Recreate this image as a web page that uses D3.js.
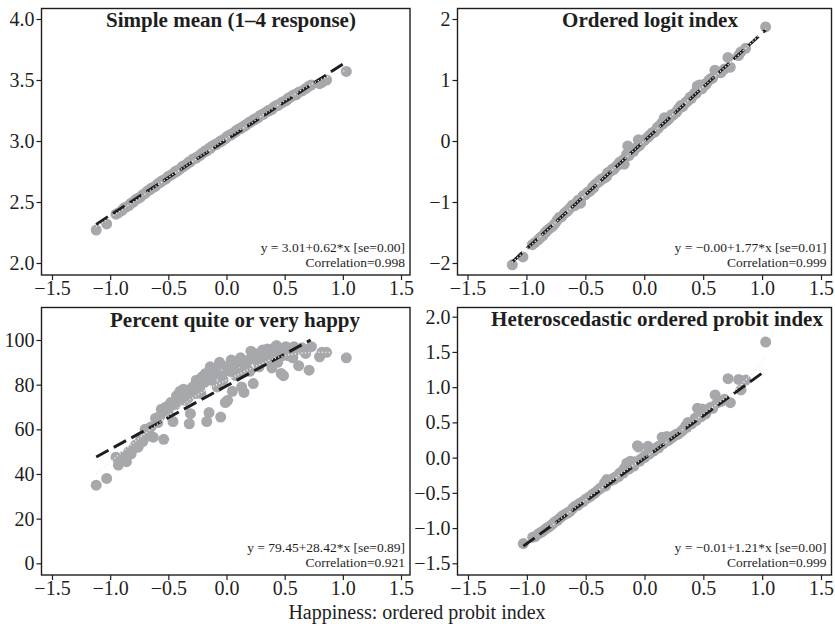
<!DOCTYPE html>
<html>
<head>
<meta charset="utf-8">
<script src="https://cdn.jsdelivr.net/npm/d3@7"></script>
<style>
  html, body { margin: 0; padding: 0; background: #fff; }
  svg { display: block; font-family: "Liberation Serif", "Times New Roman", serif; }
</style>
</head>
<body>
<svg id="chart" width="835" height="630"></svg>
<script>
// ---------------- data ----------------
const xTickValues = [-1.5, -1.0, -0.5, 0.0, 0.5, 1.0, 1.5];
const panelTitles = ["Simple mean (1\u20134 response)", "Ordered logit index",
                     "Percent quite or very happy", "Heteroscedastic ordered probit index"];
const yTicksMean = [2.0, 2.5, 3.0, 3.5, 4.0];
const yTicksLogit = [-2, -1, 0, 1, 2];
const yTicksPct = [0, 20, 40, 60, 80, 100];
const yTicksHetero = [-1.5, -1.0, -0.5, 0.0, 0.5, 1.0, 1.5, 2.0];

// Happiness: ordered probit index (x, shared by all panels)
const probitIndex = [-1.12, -1.03, -0.95, -0.93, -0.90, -0.88, -0.86, -0.84, -0.80, -0.78,
  -0.76, -0.74, -0.72, -0.70, -0.68, -0.66, -0.63, -0.61, -0.59, -0.56,
  -0.54, -0.52, -0.50, -0.48, -0.46, -0.44, -0.42, -0.40, -0.38, -0.36,
  -0.34, -0.32, -0.31, -0.29, -0.27, -0.25, -0.23, -0.21, -0.19, -0.17,
  -0.15, -0.14, -0.12, -0.10, -0.08, -0.06, -0.05, -0.03, -0.01, 0.01,
  0.03, 0.05, 0.07, 0.09, 0.11, 0.13, 0.15, 0.17, 0.19, 0.21,
  0.23, 0.25, 0.27, 0.29, 0.31, 0.33, 0.35, 0.37, 0.39, 0.41,
  0.43, 0.45, 0.47, 0.49, 0.51, 0.53, 0.55, 0.57, 0.60, 0.62,
  0.65, 0.68, 0.71, 0.73, 0.80, 0.82, 0.86, 1.03,
  -0.82, -0.65, -0.57, -0.43, -0.37, -0.33, -0.26, -0.22, -0.18, -0.13,
  -0.09, -0.04, 0.00, 0.04, 0.08, 0.12, 0.16, 0.20, 0.24, 0.28,
  0.32, 0.36, 0.40, 0.44, 0.48, 0.52, 0.58];

const simpleMean = [2.27, 2.32, 2.40, 2.41, 2.43, 2.45, 2.46, 2.47, 2.50, 2.52,
  2.53, 2.54, 2.56, 2.57, 2.59, 2.60, 2.62, 2.63, 2.65, 2.67,
  2.68, 2.69, 2.71, 2.72, 2.73, 2.75, 2.76, 2.77, 2.79, 2.80,
  2.81, 2.83, 2.83, 2.85, 2.86, 2.87, 2.88, 2.90, 2.91, 2.92,
  2.94, 2.94, 2.96, 2.97, 2.98, 2.99, 3.00, 3.01, 3.02, 3.04,
  3.05, 3.06, 3.07, 3.09, 3.10, 3.11, 3.12, 3.13, 3.15, 3.16,
  3.17, 3.18, 3.19, 3.21, 3.22, 3.23, 3.24, 3.25, 3.26, 3.28,
  3.29, 3.30, 3.31, 3.32, 3.33, 3.35, 3.36, 3.37, 3.38, 3.40,
  3.41, 3.43, 3.45, 3.46, 3.47, 3.48, 3.50, 3.57,
  2.49, 2.61, 2.66, 2.75, 2.79, 2.82, 2.86, 2.89, 2.92, 2.95,
  2.97, 3.00, 3.03, 3.05, 3.08, 3.10, 3.13, 3.15, 3.18, 3.20,
  3.22, 3.25, 3.27, 3.29, 3.32, 3.34, 3.38];

const orderedLogit = [-2.03, -1.90, -1.70, -1.67, -1.62, -1.58, -1.55, -1.50, -1.43, -1.40,
  -1.36, -1.30, -1.25, -1.24, -1.19, -1.16, -1.10, -1.05, -1.06, -0.97,
  -1.02, -0.90, -0.88, -0.84, -0.82, -0.76, -0.72, -0.69, -0.66, -0.62,
  -0.61, -0.58, -0.52, -0.50, -0.46, -0.44, -0.40, -0.35, -0.36, -0.38,
  -0.22, -0.08, -0.20, -0.16, -0.13, -0.10, 0.02, -0.04, 0.00, 0.03,
  0.06, 0.10, 0.14, 0.15, 0.22, 0.25, 0.30, 0.38, 0.33, 0.37,
  0.43, 0.44, 0.47, 0.53, 0.58, 0.57, 0.63, 0.66, 0.72, 0.74,
  0.79, 0.90, 0.92, 0.86, 0.93, 0.95, 1.00, 1.03, 1.16, 1.12,
  1.12, 1.18, 1.37, 1.21, 1.40, 1.46, 1.52, 1.87,
  -1.46, -1.14, -1.00, -0.77, -0.64, -0.59, -0.47, -0.39, -0.31, -0.24,
  -0.17, -0.07, 0.01, 0.08, 0.14, 0.21, 0.28, 0.35, 0.42, 0.49,
  0.56, 0.64, 0.70, 0.78, 0.85, 0.92, 1.03];

const pctHappy = [35, 38, 47.5, 44, 46, 48, 45.5, 50, 51.5, 53,
  52, 55, 54.5, 60, 58, 57, 56.5, 65, 63, 69,
  55.5, 70, 68, 72, 63.5, 71, 74, 77, 76, 73,
  77.5, 62.5, 67, 79, 76, 80, 78, 83.5, 81, 63.5,
  67.5, 88, 84, 86, 79, 90, 65.5, 82, 72, 73,
  86, 77, 89, 90, 85, 79, 76.5, 88, 91, 95,
  80.5, 92, 90, 93, 95.5, 94, 96, 91, 87.5, 96.5,
  97.5, 94, 85, 84, 97, 93, 96, 92, 95.5, 88.5,
  96.5, 94, 86.5, 97, 92.5, 94.5, 94.5, 92,
  49, 61, 66, 75, 78, 74, 82, 76, 85, 82,
  87, 84, 88, 91, 84, 92, 87, 86, 94, 88,
  92, 93, 95, 90, 93, 95, 97];

const heteroProbit = [null, -1.22, -1.13, -1.12, -1.08, -1.06, -1.04, -1.01, -0.97, -0.94,
  -0.91, -0.89, -0.86, -0.83, -0.81, -0.79, -0.76, -0.72, -0.69, -0.66,
  -0.64, -0.62, -0.59, -0.57, -0.55, -0.52, -0.50, -0.47, -0.44, -0.42,
  -0.36, -0.31, -0.34, -0.33, -0.30, -0.28, -0.26, -0.22, -0.20, -0.15,
  -0.08, -0.16, -0.05, -0.10, -0.06, 0.17, 0.15, -0.02, 0.00, 0.03,
  0.16, 0.08, 0.09, 0.12, 0.15, 0.17, 0.29, 0.22, 0.30, 0.26,
  0.28, 0.31, 0.33, 0.34, 0.37, 0.40, 0.45, 0.50, 0.48, 0.50,
  0.56, 0.70, 0.65, 0.69, 0.62, 0.66, 0.70, 0.72, 0.89, 0.78,
  0.80, 0.83, 1.12, 0.78, 1.11, 0.96, 1.10, 1.64,
  -0.99, -0.78, -0.68, -0.51, -0.43, -0.40, -0.31, -0.27, -0.22, -0.16,
  -0.12, -0.05, 0.00, 0.05, 0.10, 0.14, 0.20, 0.24, 0.29, 0.33,
  0.38, 0.43, 0.48, 0.53, 0.58, 0.62, 0.70];

// Linear fits (as printed in the panels)
const fitIntercepts = [3.01, -0.00, 79.45, -0.01];
const fitSlopes = [0.62, 1.77, 28.42, 1.21];
const fitLabels = ["y = 3.01+0.62*x [se=0.00]", "y = \u22120.00+1.77*x [se=0.01]",
                   "y = 79.45+28.42*x [se=0.89]", "y = \u22120.01+1.21*x [se=0.00]"];
const corrLabels = ["Correlation=0.998", "Correlation=0.999", "Correlation=0.921", "Correlation=0.999"];

// Local smoother (light dotted curve)
const smoothX = [-1.12, -0.8, -0.5, -0.2, 0.0, 0.2, 0.5, 0.8, 1.03];
const smoothMean = [2.30, 2.50, 2.70, 2.89, 3.02, 3.14, 3.33, 3.50, 3.58];
const smoothLogit = [-1.99, -1.42, -0.88, -0.35, 0.00, 0.36, 0.89, 1.41, 1.84];
const smoothPct = [40, 54, 66, 77, 82, 87, 93, 94.5, 94];
const smoothHetero = [null, -0.98, -0.60, -0.23, 0.00, 0.24, 0.62, 1.00, 1.41];

const ySeries = [simpleMean, orderedLogit, pctHappy, heteroProbit];
const smoothSeries = [smoothMean, smoothLogit, smoothPct, smoothHetero];
const yTickSets = [yTicksMean, yTicksLogit, yTicksPct, yTicksHetero];
const yFormats = [".1f", "d", "d", ".1f"];

// ---------------- layout ----------------
const layout = [
  {fx0: 41.5, fy0: 8.5,  fx1: 410,   fy1: 275, xr: [52, 401],    yr: [263, 19],    tx: 231, ty: 27},
  {fx0: 457.5, fy0: 8.5, fx1: 831.5, fy1: 275, xr: [467.5, 821], yr: [263, 19],    tx: 650, ty: 27},
  {fx0: 41.5, fy0: 307.5, fx1: 410,  fy1: 575, xr: [52, 401],    yr: [563.3, 340], tx: 235, ty: 327},
  {fx0: 457.5, fy0: 307.5, fx1: 831.5, fy1: 575, xr: [468, 821], yr: [563.3, 316.7], tx: 657, ty: 326}
];

const svg = d3.select("#chart");
const ink = "#1e1e1e";
const pointColor = "#a7a8ab";

layout.forEach((L, i) => {
  const g = svg.append("g");
  const yt = yTickSets[i];
  const x = d3.scaleLinear().domain([xTickValues[0], xTickValues[xTickValues.length - 1]]).range(L.xr);
  const y = d3.scaleLinear().domain([yt[0], yt[yt.length - 1]]).range(L.yr);

  // frame
  g.append("rect")
    .attr("x", L.fx0).attr("y", L.fy0)
    .attr("width", L.fx1 - L.fx0).attr("height", L.fy1 - L.fy0)
    .attr("fill", "none").attr("stroke", ink).attr("stroke-width", 1.4);

  // axes
  const xAxis = d3.axisBottom(x).tickValues(xTickValues).tickFormat(d3.format(".1f"))
    .tickSize(5).tickSizeOuter(0).tickPadding(1);
  const ax = g.append("g").attr("transform", `translate(0,${L.fy1})`).call(xAxis);
  const yAxis = d3.axisLeft(y).tickValues(yt).tickFormat(d3.format(yFormats[i]))
    .tickSize(5).tickSizeOuter(0).tickPadding(2);
  const ay = g.append("g").attr("transform", `translate(${L.fx0},0)`).call(yAxis);
  [ax, ay].forEach(a => {
    a.select(".domain").remove();
    a.selectAll("line").attr("stroke", ink).attr("stroke-width", 1.2);
    a.selectAll("text").attr("fill", ink).style("font-size", "20px")
      .style("font-family", '"Liberation Serif", "Times New Roman", serif');
  });

  // points
  const ys = ySeries[i];
  const pts = probitIndex.map((xv, k) => ({x: xv, y: ys[k]})).filter(d => d.y !== null);
  g.append("g").selectAll("circle").data(pts).join("circle")
    .attr("cx", d => x(d.x)).attr("cy", d => y(d.y)).attr("r", 5.5)
    .attr("fill", pointColor);

  // fitted line (clipped to the top of the y range)
  const a = fitIntercepts[i], b = fitSlopes[i];
  const xmin = d3.min(pts, d => d.x);
  let xmax = d3.max(pts, d => d.x);
  const yTop = yt[yt.length - 1];
  if (a + b * xmax > yTop) xmax = (yTop - a) / b;
  g.append("line")
    .attr("x1", x(xmin)).attr("y1", y(a + b * xmin))
    .attr("x2", x(xmax)).attr("y2", y(a + b * xmax))
    .attr("stroke", ink).attr("stroke-width", 3)
    .attr("stroke-dasharray", "14,6");

  // smoother (light dotted)
  const sm = smoothX.map((xv, k) => ({x: xv, y: smoothSeries[i][k]})).filter(d => d.y !== null);
  g.append("path").datum(sm)
    .attr("d", d3.line().x(d => x(d.x)).y(d => y(d.y)).curve(d3.curveMonotoneX))
    .attr("fill", "none").attr("stroke", "#eeeeee").attr("stroke-width", 1.4)
    .attr("stroke-dasharray", "1.2,2.2");

  // title
  g.append("text").attr("x", L.tx).attr("y", L.ty).attr("text-anchor", "middle")
    .attr("fill", ink).style("font-size", "21px").style("font-weight", "bold")
    .text(panelTitles[i]);

  // fit annotation
  g.append("text").attr("x", L.fx1 - 5).attr("y", L.fy1 - 23.5).attr("text-anchor", "end")
    .attr("fill", ink).style("font-size", "13.5px").text(fitLabels[i]);
  g.append("text").attr("x", L.fx1 - 5).attr("y", L.fy1 - 8.5).attr("text-anchor", "end")
    .attr("fill", ink).style("font-size", "13.5px").text(corrLabels[i]);
});

svg.append("text").attr("x", 417).attr("y", 619).attr("text-anchor", "middle")
  .attr("fill", ink).style("font-size", "20px")
  .text("Happiness: ordered probit index");
</script>
</body>
</html>
